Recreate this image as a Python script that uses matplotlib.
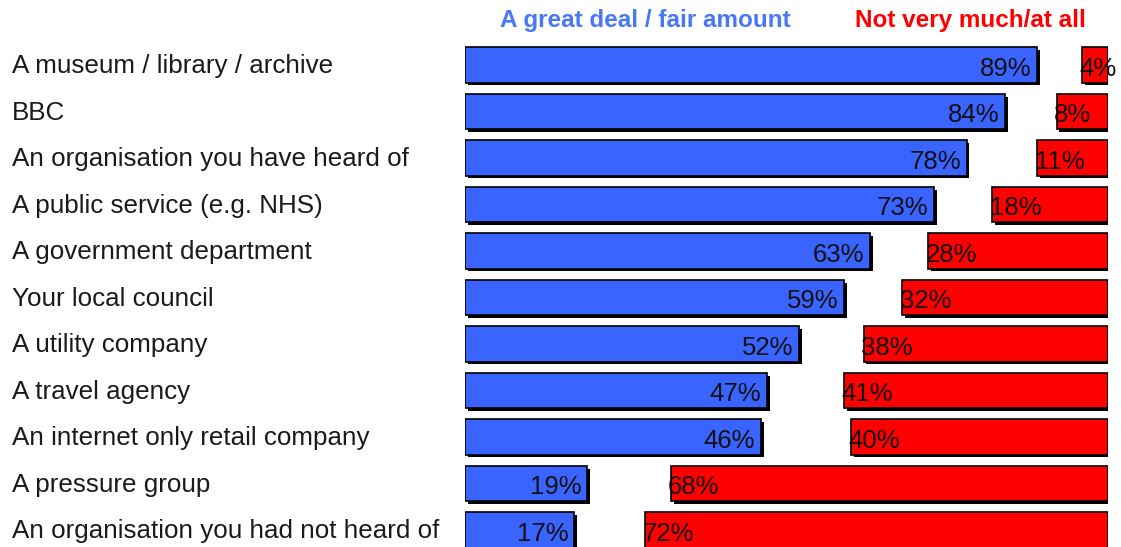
import matplotlib.pyplot as plt
import matplotlib.patheffects as pe
import matplotlib.transforms as mtransforms

# Trust levels by type of organisation
labels = ["A museum / library / archive", "BBC", "An organisation you have heard of",
          "A public service (e.g. NHS)", "A government department", "Your local council",
          "A utility company", "A travel agency", "An internet only retail company",
          "A pressure group", "An organisation you had not heard of"]
great_deal = [89, 84, 78, 73, 63, 59, 52, 47, 46, 19, 17]
not_much = [4, 8, 11, 18, 28, 32, 38, 41, 40, 68, 72]

plt.rcParams['font.family'] = ['Liberation Sans', 'DejaVu Sans']

blue = '#3a64ff'
red = '#ff0000'
shadow = [pe.SimplePatchShadow(offset=(2, -2), shadow_rgbFace='black', alpha=1), pe.Normal()]

fig = plt.figure(figsize=(11.21, 5.47), dpi=100)
# axes spans 0..100 % horizontally, rows spaced ~46.5 px
ax = fig.add_axes([465 / 1121, 0, 643 / 1121, 1])
rows = list(range(len(labels)))

b1 = ax.barh(rows, great_deal, height=0.76, color=blue, edgecolor='black', linewidth=1.2)
left_red = [100 - v for v in not_much]
b2 = ax.barh(rows, not_much, left=left_red, height=0.76, color=red, edgecolor='black', linewidth=1.2)
for bar in list(b1) + list(b2):
    bar.set_path_effects(shadow)

ax.set_xlim(0, 100)
ax.set_ylim((547 - 65) / 46.5, -65 / 46.5)
ax.axis('off')

for i, v in enumerate(great_deal):
    ax.text(v - 0.9, i + 0.08, f"{v}%", ha='right', va='center', fontsize=18.5, color='#111111')
for i, v in enumerate(not_much):
    ax.text(100 - v - 0.4, i + 0.08, f"{v}%", ha='left', va='center', fontsize=18.5, color='#111111')

trans = mtransforms.blended_transform_factory(fig.transFigure, ax.transData)
for i, lab in enumerate(labels):
    ax.text(12 / 1121, i + 0.03, lab, transform=trans, ha='left', va='center', fontsize=18.7,
            color='#1a1a1a')

fig.text(645 / 1121, 1 - 20 / 547, "A great deal / fair amount", ha='center', va='center',
         fontsize=17.5, fontweight='bold', color='#4a78f5')
fig.text(970 / 1121, 1 - 20 / 547, "Not very much/at all", ha='center', va='center',
         fontsize=17.5, fontweight='bold', color=red)

plt.savefig('out.png', dpi=100)
